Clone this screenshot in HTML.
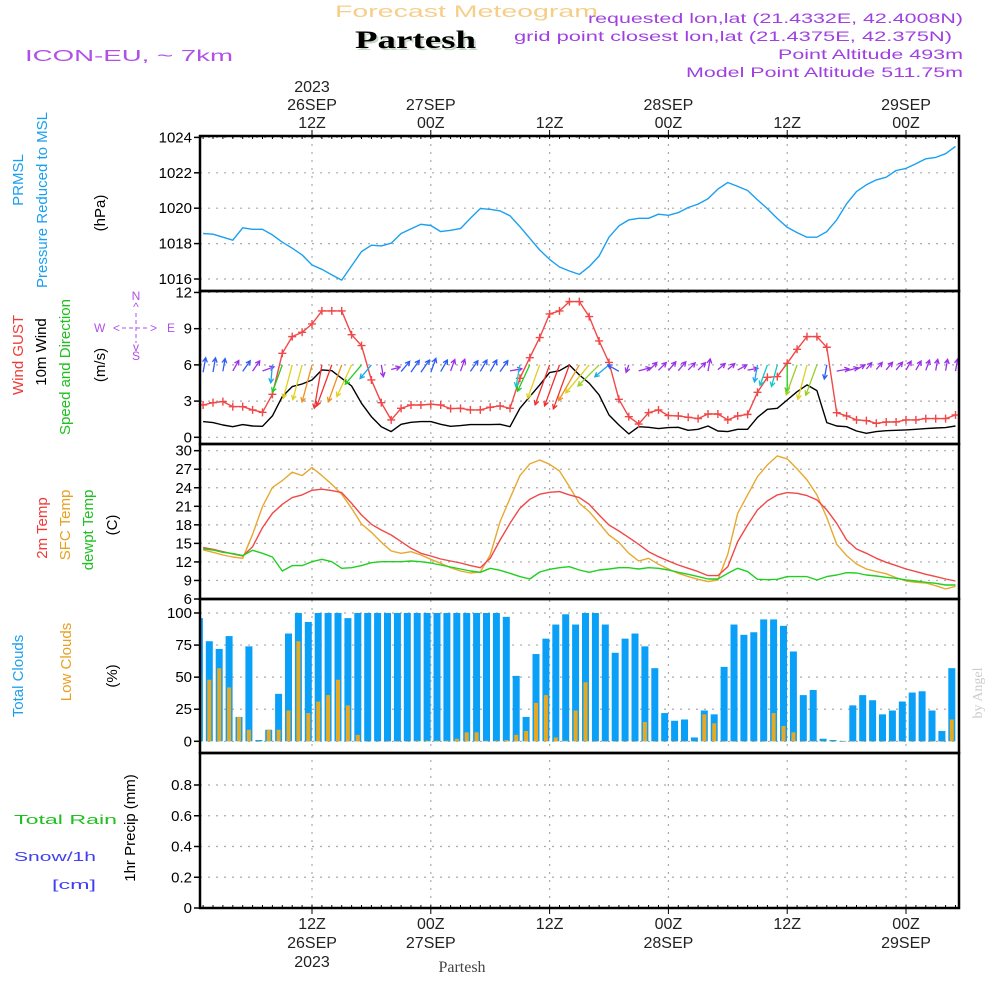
<!DOCTYPE html>
<html><head><meta charset="utf-8"><style>
html,body{margin:0;padding:0;background:#fff;}
svg{display:block;font-family:"Liberation Sans",sans-serif;}
</style></head><body>
<svg id="chart" width="1000" height="1000" viewBox="0 0 1000 1000" xmlns="http://www.w3.org/2000/svg">
<g id="hdr">
<text x="335" y="17" font-size="17" fill="#f5cf8a" textLength="263" lengthAdjust="spacingAndGlyphs">Forecast Meteogram</text>
<text x="357" y="50" font-size="25" font-weight="bold" font-family="Liberation Serif, serif" fill="#c8d8c8" textLength="121" lengthAdjust="spacingAndGlyphs">Partesh</text>
<text x="355" y="48" font-size="25" font-weight="bold" font-family="Liberation Serif, serif" fill="#000" textLength="121" lengthAdjust="spacingAndGlyphs">Partesh</text>
<text x="25" y="61" font-size="16" fill="#b050e8" textLength="208" lengthAdjust="spacingAndGlyphs">ICON-EU, ~ 7km</text>
<text x="588" y="23" font-size="14" fill="#a040e0" textLength="375" lengthAdjust="spacingAndGlyphs">requested lon,lat (21.4332E, 42.4008N)</text>
<text x="514" y="41" font-size="14" fill="#a040e0" textLength="438" lengthAdjust="spacingAndGlyphs">grid point closest lon,lat (21.4375E, 42.375N)</text>
<text x="778" y="59" font-size="14" fill="#a040e0" textLength="185" lengthAdjust="spacingAndGlyphs">Point Altitude 493m</text>
<text x="686" y="77" font-size="14" fill="#a040e0" textLength="277" lengthAdjust="spacingAndGlyphs">Model Point Altitude 511.75m</text>
<text x="462" y="972" font-size="16" font-family="Liberation Serif, serif" fill="#444" text-anchor="middle">Partesh</text>
<text transform="translate(982,693) rotate(-90)" font-size="14" font-family="Liberation Serif, serif" fill="#ccc" text-anchor="middle">by Angel</text>
</g>
<g id="labels" font-size="15">
<text transform="translate(23,180) rotate(-90)" text-anchor="middle" fill="#1aa0f0">PRMSL</text>
<text transform="translate(47,200) rotate(-90)" text-anchor="middle" fill="#1aa0f0">Pressure Reduced to MSL</text>
<text transform="translate(105,213) rotate(-90)" text-anchor="middle" fill="#000">(hPa)</text>
<text transform="translate(23,355) rotate(-90)" text-anchor="middle" fill="#f03a3a">Wind GUST</text>
<text transform="translate(46,352) rotate(-90)" text-anchor="middle" fill="#000">10m Wind</text>
<text transform="translate(70,367) rotate(-90)" text-anchor="middle" fill="#20c020">Speed and Direction</text>
<text transform="translate(105,365) rotate(-90)" text-anchor="middle" fill="#000">(m/s)</text>
<g fill="#b050e8" font-size="12">
<text x="136" y="300" text-anchor="middle">N</text>
<text x="136" y="311" text-anchor="middle">^</text>
<text x="94" y="332">W</text>
<text x="113" y="332">&lt;</text><text x="150" y="332">&gt;</text>
<line x1="122" y1="328" x2="150" y2="328" stroke="#b050e8" stroke-dasharray="4,3"/>
<line x1="136" y1="313" x2="136" y2="343" stroke="#b050e8" stroke-dasharray="4,3"/>
<text x="167" y="332">E</text>
<text x="136" y="351" text-anchor="middle">v</text>
<text x="136" y="360" text-anchor="middle">S</text>
</g>
<text transform="translate(47,528) rotate(-90)" text-anchor="middle" fill="#f03a3a">2m Temp</text>
<text transform="translate(70,525) rotate(-90)" text-anchor="middle" fill="#e8a020">SFC Temp</text>
<text transform="translate(93,530) rotate(-90)" text-anchor="middle" fill="#20c020">dewpt Temp</text>
<text transform="translate(117,525) rotate(-90)" text-anchor="middle" fill="#000">(C)</text>
<text transform="translate(23,676) rotate(-90)" text-anchor="middle" fill="#1aa0f0">Total Clouds</text>
<text transform="translate(71,662) rotate(-90)" text-anchor="middle" fill="#e8a020">Low Clouds</text>
<text transform="translate(117,676) rotate(-90)" text-anchor="middle" fill="#000">(%)</text>
<text x="14" y="824" font-size="13" fill="#20c020" textLength="103" lengthAdjust="spacingAndGlyphs">Total   Rain</text>
<text x="14" y="861" font-size="13" fill="#4040f0" textLength="82" lengthAdjust="spacingAndGlyphs">Snow/1h</text>
<text x="52" y="889" font-size="13" fill="#4040f0" textLength="44" lengthAdjust="spacingAndGlyphs">[cm]</text>
<text transform="translate(135,828) rotate(-90)" text-anchor="middle" fill="#000">1hr Precip (mm)</text>
</g>
<g id="plot"></g>
</svg>
<script>
const hours = [];
for (let h = 1; h <= 77; h++) hours.push(h);
const pressure = [1018.57,1018.53,1018.36,1018.19,1018.89,1018.81,1018.81,1018.49,1018.08,1017.74,1017.36,1016.79,1016.55,1016.23,1015.94,1016.74,1017.55,1017.91,1017.87,1018.02,1018.57,1018.83,1019.09,1019.02,1018.68,1018.75,1018.85,1019.43,1019.98,1019.94,1019.85,1019.57,1018.96,1018.30,1017.64,1017.11,1016.68,1016.45,1016.26,1016.70,1017.30,1018.36,1019.0,1019.34,1019.43,1019.43,1019.66,1019.6,1019.75,1020.04,1020.23,1020.53,1021.08,1021.45,1021.23,1021.0,1020.47,1019.98,1019.42,1018.92,1018.62,1018.36,1018.36,1018.68,1019.34,1020.25,1020.94,1021.32,1021.6,1021.75,1022.13,1022.25,1022.51,1022.79,1022.87,1023.08,1023.49];
const gust = [2.68,2.87,2.96,2.54,2.54,2.27,2.07,3.56,6.96,8.34,8.7,9.39,10.47,10.47,10.47,8.5,7.6,4.75,2.87,1.44,2.4,2.68,2.68,2.73,2.68,2.38,2.4,2.27,2.27,2.49,2.6,2.4,4.89,6.6,8.26,10.22,10.47,11.24,11.24,10.0,7.98,6.2,3.15,1.71,1.1,2.04,2.27,1.8,1.77,1.66,1.55,1.93,1.93,1.44,1.77,1.9,3.73,4.97,5.03,6.13,7.29,8.34,8.34,7.46,2.04,1.77,1.44,1.38,1.16,1.27,1.27,1.44,1.44,1.55,1.55,1.55,1.85];
const wind = [1.3,1.22,1.02,0.88,1.05,0.94,0.91,1.77,3.37,4.2,4.42,4.75,5.58,5.52,4.89,4.25,2.82,1.71,0.88,0.47,1.08,1.24,1.3,1.3,1.08,0.91,0.97,1.05,1.05,1.05,1.08,0.88,2.4,3.37,4.34,5.36,5.52,5.99,5.17,4.48,3.51,1.85,1.02,0.28,0.88,0.83,0.72,0.8,0.83,0.58,0.66,0.94,0.52,0.47,0.66,0.66,1.66,2.32,2.4,3.09,3.78,4.34,3.87,1.22,0.94,0.88,0.52,0.33,0.47,0.55,0.58,0.61,0.66,0.72,0.77,0.8,0.94];
const windDir = [10,10,10,30,35,35,70,185,200,195,195,195,190,200,200,205,220,220,170,75,40,35,35,20,30,20,20,35,30,30,35,80,190,205,200,200,200,200,210,220,225,230,300,200,75,45,45,40,40,45,45,10,50,50,60,80,190,200,195,180,200,195,200,190,80,75,60,40,40,40,40,30,30,20,10,10,10];
const temp2m = [14.31,14.04,13.66,13.29,12.96,14.47,17.55,19.87,21.33,22.41,22.84,23.59,23.76,23.54,23.22,21.49,19.6,18.09,17.17,16.36,15.28,14.2,13.39,12.96,12.48,12.15,11.83,11.4,11.07,12.58,15.55,18.25,20.68,22.14,22.95,23.27,23.38,22.84,22.41,21.33,19.6,17.98,17.01,15.93,14.85,13.66,12.85,12.15,11.5,10.96,10.43,9.78,9.78,11.23,15.28,17.98,20.41,21.87,22.84,23.22,23.11,22.73,22.03,20.41,18.25,15.55,14.09,13.39,12.58,11.94,11.4,10.86,10.43,9.99,9.62,9.24,8.91];
const sfcTemp = [13.93,13.56,13.12,12.8,12.58,16.47,20.95,24.03,25.16,26.51,25.97,27.26,25.97,24.56,22.95,20.68,18.14,16.79,15.17,13.77,13.39,13.66,13.12,12.42,11.77,11.07,10.53,10.21,10.37,13.12,18.52,22.3,25.97,27.86,28.5,27.8,26.72,24.19,21.49,20.14,18.25,16.36,15.17,13.39,12.15,12.58,11.61,10.86,10.16,9.62,9.18,8.81,9.08,13.23,19.87,22.84,25.81,27.7,29.15,28.67,27.05,25.27,22.84,19.17,14.85,13.02,11.67,10.86,10.43,10.1,9.45,8.91,8.7,8.59,8.16,7.62,8.05];
const dewpt = [14.1,13.93,13.56,13.34,13.02,13.88,13.39,12.8,10.53,11.4,11.4,12.04,12.42,12.04,10.96,11.07,11.4,11.88,12.04,12.04,12.04,12.15,12.04,11.83,11.5,11.18,10.86,10.53,10.32,10.96,10.64,10.16,9.62,9.24,10.37,10.8,11.07,11.23,10.7,10.32,10.7,10.86,11.07,11.07,10.86,11.07,10.96,10.7,10.32,9.99,9.62,9.24,9.24,10.16,10.96,10.43,9.18,9.13,9.18,9.62,9.62,9.62,9.08,9.62,9.89,10.26,10.21,9.89,9.72,9.51,9.35,9.08,8.91,8.7,8.54,8.27,8.27];
const totalClouds = [96,78,72,82,19,74,1,9,37,84,100,93,100,100,100,96,100,100,100,100,100,100,100,100,100,100,100,100,100,100,100,97,51,19,68,80,91,99,91,100,100,91,69,80,84,74,57,22,16,17,3,24,21,58,91,83,85,95,95,90,70,36,40,2,1,0.3,28,36,32,21,24,31,38,39,24,8,57];
const lowClouds = [52,48,57,42,19,9,0,9,9,24,78,22,31,36,48,28,5,0,0,0,0,0,0.5,0.5,0.5,0.5,2,7,7,0.5,0.5,1,5,8,30,36,3,0.5,24,46,0,0,0,0,0,15,0,0,0,0,0,21,14,0,0,0,0,0,22,12,7,0,0,0,0,0,0,0,0,0,0,0,0,0,0,0,17];
const precip = new Array(77).fill(0);
const pTicks = [1016,1018,1020,1022,1024];
const wTicks = [0,3,6,9,12];
const tTicks = [6,9,12,15,18,21,24,27,30];
const cTicks = [0,25,50,75,100];
const rTicks = ["0","0.2","0.4","0.6","0.8"];
const timeTicks = [12,24,36,48,60,72];
const topLabels = [["2023","26SEP","12Z"],["","27SEP","00Z"],["","","12Z"],["","28SEP","00Z"],["","","12Z"],["","29SEP","00Z"]];
const botLabels = [["12Z","26SEP","2023"],["00Z","27SEP",""],["12Z","",""],["00Z","28SEP",""],["12Z","",""],["00Z","29SEP",""]];

const L = 200, R = 959;
const X = h => 312 + (h - 12) * 9.9;
const yP = v => 279 - (v - 1016) * 17.7;
const yW = v => 437.3 - v * 12.07;
const yT = v => 599 - (v - 6) * 6.18;
const yC = v => 741.3 - v * 1.283;
const yR = v => 908 - v * 153.75;
const NS = "http://www.w3.org/2000/svg";
const plot = document.getElementById('plot');
function mk(tag, attrs, parent) {
  const e = document.createElementNS(NS, tag);
  for (const k in attrs) e.setAttribute(k, attrs[k]);
  (parent || plot).appendChild(e);
  return e;
}
const panels = [[136,291],[291,444],[444,599],[599,753],[753,908]];
const clip = mk('clipPath', {id: 'pc'});
mk('rect', {x: L, y: 130, width: R - L, height: 780}, clip);

function hgrid(ticks, yf, labels) {
  ticks.forEach((t, i) => {
    const y = yf(typeof t === 'string' ? parseFloat(t) : t);
    const g = mk('line', {x1: L, x2: R, y1: y, y2: y, stroke: '#aaa', 'stroke-dasharray': '2,6', 'stroke-width': 1.2});
    
    
    mk('line', {x1: L - 6, x2: L, y1: y, y2: y, stroke: '#000', 'stroke-width': 1.5});
    const tx = mk('text', {x: L - 8, y: y + 5, 'font-size': 15, 'text-anchor': 'end', fill: '#000'});
    tx.textContent = labels ? labels[i] : t;
    
    
  });
}
hgrid(pTicks, yP);
hgrid(wTicks, yW);
hgrid(tTicks, yT);
hgrid(cTicks, yC);
hgrid(rTicks, yR, rTicks);
timeTicks.forEach(h => {
  const x = X(h);
  const v = mk('line', {x1: x, x2: x, y1: 136, y2: 908, stroke: '#aaa', 'stroke-dasharray': '2,6', 'stroke-width': 1.2});
  
  
  mk('line', {x1: x, x2: x, y1: 130, y2: 136, stroke: '#000'});
  mk('line', {x1: x, x2: x, y1: 908, y2: 914, stroke: '#000'});
});
for (let h = 1; h <= 77; h++) {
  mk('line', {x1: X(h), x2: X(h), y1: 136, y2: 139, stroke: '#000'});
  mk('line', {x1: X(h), x2: X(h), y1: 905, y2: 908, stroke: '#000'});
}
timeTicks.forEach((h, i) => {
  [92, 110, 128].forEach((yy, j) => {
    const s = topLabels[i][j];
    if (!s) return;
    const t = mk('text', {x: X(h), y: yy, 'font-size': 16, 'text-anchor': 'middle', fill: '#222'});
    t.textContent = s;
    
    
  });
  [929, 948, 967].forEach((yy, j) => {
    const s = botLabels[i][j];
    if (!s) return;
    const t = mk('text', {x: X(h), y: yy, 'font-size': 16, 'text-anchor': 'middle', fill: '#222'});
    t.textContent = s;
    
    
  });
});

const cg = mk('g', {'clip-path': 'url(#pc)'});


hours.forEach((h, i) => {
  const cx = X(h) - 3.7;
  const b = mk('rect', {x: cx - 3.5, width: 7, y: yC(totalClouds[i]), height: Math.max(0.5, yC(0) - yC(totalClouds[i])), fill: '#0aa0f8'}, cg);
  
  
  const lb = mk('rect', {x: cx - 2, width: 4, y: yC(lowClouds[i]), height: Math.max(0.5, yC(0) - yC(lowClouds[i])), fill: '#e8a820'}, cg);
  
  
  const pb = mk('rect', {x: cx - 3.5, width: 7, y: yR(precip[i]), height: yR(0) - yR(precip[i]), fill: '#20c020'}, cg);
  
  
});

function line(vals, yf, color, name, w) {
  const d = vals.map((v, i) => (i ? 'L' : 'M') + X(hours[i]).toFixed(1) + ',' + yf(v).toFixed(1)).join('');
  const p = mk('path', {d: d, fill: 'none', stroke: color, 'stroke-width': w || 1.4, 'stroke-linejoin': 'round'});
  
  
}
line(pressure, yP, '#1aa0f0', 'pressure-line');
line(wind, yW, '#000', 'wind-speed-line');
line(gust, yW, '#f04848', 'gust-line');
hours.forEach((h, i) => {
  const x = X(h), y = yW(gust[i]);
  const m = mk('path', {d: `M${x-4},${y}H${x+4}M${x},${y-4}V${y+4}`, stroke: '#f04848', 'stroke-width': 1.4});
  
  
});
function arrowColor(s) {
  if (s < 1.0) return '#9b30e8';
  if (s < 1.6) return '#2e5cf6';
  if (s < 2.1) return '#1ba8e8';
  if (s < 2.6) return '#12c8c8';
  if (s < 3.5) return '#22cc22';
  if (s < 4.0) return '#9ad020';
  if (s < 4.6) return '#e0d020';
  if (s < 5.3) return '#f09020';
  return '#f03030';
}
hours.forEach((h, i) => {
  const s = wind[i], dr = windDir[i] * Math.PI / 180;
  const len = 6 + s * 6.8;
  const up = Math.cos(dr) > 0;
  const x0 = X(h), y0 = up ? yW(6) + len / 2 : yW(6);
  const x1 = x0 + len * Math.sin(dr), y1 = y0 - len * Math.cos(dr);
  const a = Math.atan2(y1 - y0, x1 - x0);
  const hl = 5;
  const c = arrowColor(s);
  const d = `M${x0.toFixed(1)},${y0.toFixed(1)}L${x1.toFixed(1)},${y1.toFixed(1)}M${(x1 - hl*Math.cos(a-0.5)).toFixed(1)},${(y1 - hl*Math.sin(a-0.5)).toFixed(1)}L${x1.toFixed(1)},${y1.toFixed(1)}L${(x1 - hl*Math.cos(a+0.5)).toFixed(1)},${(y1 - hl*Math.sin(a+0.5)).toFixed(1)}`;
  const ar = mk('path', {d: d, fill: 'none', stroke: c, 'stroke-width': 1.3});
  
  
});
line(sfcTemp, yT, '#e8a830', 'sfc-temp-line');
line(temp2m, yT, '#f04848', 'temp2m-line');
line(dewpt, yT, '#20d020', 'dewpoint-line');

panels.forEach(([a, b]) => {
  const f = mk('rect', {x: L, y: a, width: R - L, height: b - a, fill: 'none', stroke: '#000', 'stroke-width': 2.5});
  
  
});
</script>
</body></html>
